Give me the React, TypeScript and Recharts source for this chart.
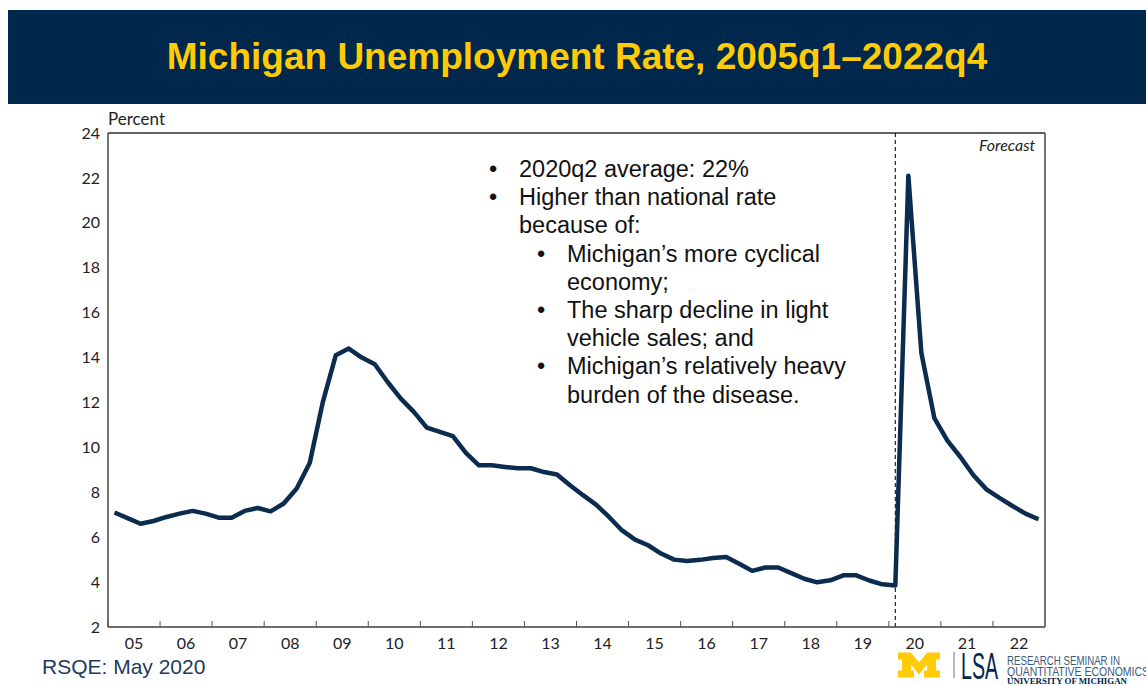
import React from 'react';
import { LineChart, Line, XAxis, YAxis, CartesianGrid, ReferenceLine } from 'recharts';

// Michigan unemployment rate, quarterly 2005q1 - 2022q4 (forecast from 2020q2)
const years = ['05', '06', '07', '08', '09', '10', '11', '12', '13', '14', '15', '16', '17', '18', '19', '20', '21', '22'];
const rates = [
    7.1, 6.85, 6.6, 6.72,
    6.9, 7.05, 7.17, 7.05,
    6.87, 6.87, 7.17, 7.3,
    7.15, 7.5, 8.17, 9.3,
    12.0, 14.1, 14.4, 14.0,
    13.7, 12.9, 12.17, 11.58,
    10.88, 10.69, 10.5, 9.75,
    9.2, 9.2, 9.13, 9.07,
    9.07, 8.9, 8.79, 8.31,
    7.87, 7.45, 6.9, 6.3,
    5.89, 5.64, 5.27, 5.0,
    4.94, 4.99, 5.07, 5.12,
    4.82, 4.5, 4.65, 4.65,
    4.4, 4.15, 3.99, 4.08,
    4.3, 4.3, 4.07, 3.9,
    3.85, 22.1, 14.2, 11.3,
    10.3, 9.57, 8.76, 8.13,
    7.75, 7.39, 7.05, 6.8,
];
const yTicks = [2, 4, 6, 8, 10, 12, 14, 16, 18, 20, 22, 24];
const yearStarts = years.map((_, i) => i * 4);
const forecastStart = 60.5; // 2020q1 centre

const notes = [
    { level: 0, text: '2020q2 average: 22%', bullet: true },
    { level: 0, text: 'Higher than national rate', bullet: true },
    { level: 0, text: 'because of:', bullet: false },
    { level: 1, text: 'Michigan’s more cyclical', bullet: true },
    { level: 1, text: 'economy;', bullet: false },
    { level: 1, text: 'The sharp decline in light', bullet: true },
    { level: 1, text: 'vehicle sales; and', bullet: false },
    { level: 1, text: 'Michigan’s relatively heavy', bullet: true },
    { level: 1, text: 'burden of the disease.', bullet: false },
];

const data = rates.map((v, i) => ({ t: i + 0.5, rate: v }));

const W = 1146;
const H = 686;
const PLOT_LEFT = 108;
const PLOT_RIGHT = 1045;
const HALF_YEAR = (PLOT_RIGHT - PLOT_LEFT) / 18 / 2;

const NAVY = '#00274C';
const MAIZE = '#FFCB05';
const LINE = '#0b2b4f';
const AXIS_FONT = 'Lato, "Open Sans", sans-serif';

const YearTick = ({ x, y, index }: any) => (
    <g>
        <line x1={x} y1={y} x2={x} y2={y - 6} stroke="#555" strokeWidth={1} />
        <text x={x + HALF_YEAR} y={y + 22} textAnchor="middle" fontSize={16} fill="#222" fontFamily={AXIS_FONT}>
            {years[index] ?? ''}
        </text>
    </g>
);

const Logo = () => (
    <svg width={260} height={40} style={{ position: 'absolute', left: 896, top: 646 }}>
        <g transform="translate(2,6.5)">
            <path
                d="M0 0 H13 L21 10 L29 0 H42 V7 H38 V18 H42 V25 H26 V18 H29 V12 L21 22 L13 12 V18 H16 V25 H0 V18 H4 V7 H0 Z"
                fill={MAIZE}
            />
        </g>
        <line x1={58} y1={6} x2={58} y2={32} stroke="#7d8ea3" strokeWidth={1.2} />
        <text x={65} y={33} fontSize={37} fill={NAVY} textLength={37} lengthAdjust="spacingAndGlyphs" fontFamily='"Liberation Sans", sans-serif'>
            LSA
        </text>
        <text x={111} y={18.5} fontSize={13} fill="#3b5a7d" textLength={113} lengthAdjust="spacingAndGlyphs" fontFamily='"Liberation Sans", sans-serif'>
            RESEARCH SEMINAR IN
        </text>
        <text x={111} y={29.5} fontSize={13} fill="#3b5a7d" textLength={142} lengthAdjust="spacingAndGlyphs" fontFamily='"Liberation Sans", sans-serif'>
            QUANTITATIVE ECONOMICS
        </text>
        <text x={111} y={38} fontSize={9} fontWeight={700} fill={NAVY} textLength={120} lengthAdjust="spacingAndGlyphs" fontFamily='"Liberation Serif", serif'>
            UNIVERSITY OF MICHIGAN
        </text>
    </svg>
);

export default function App() {
    return (
        <div style={{ position: 'relative', width: W, height: H, background: '#fff', overflow: 'hidden', fontFamily: '"Liberation Sans", Arial, sans-serif' }}>
            <style>{`body{margin:0}`}</style>

            {/* title banner */}
            <div style={{ position: 'absolute', left: 8, top: 10, width: W - 8, height: 94, background: NAVY, display: 'flex', alignItems: 'center', justifyContent: 'center' }}>
                <span style={{ color: MAIZE, fontWeight: 700, fontSize: 37, marginTop: 0, marginLeft: 0 }}>
                    Michigan Unemployment Rate, 2005q1–2022q4
                </span>
            </div>

            <div style={{ position: 'absolute', left: PLOT_LEFT, top: 108, fontSize: 17, color: '#222', fontFamily: AXIS_FONT }}>Percent</div>

            <div style={{ position: 'absolute', left: 0, top: 0 }}>
                <LineChart width={W} height={H} data={data} margin={{ top: 133, left: 68, right: 56, bottom: 29 }}>
                    <CartesianGrid vertical={false} stroke="#cfcfcf" strokeWidth={1.2} />
                    <XAxis
                        type="number"
                        dataKey="t"
                        domain={[0, 72]}
                        ticks={yearStarts}
                        interval={0}
                        tickSize={0}
                        tickMargin={0}
                        tickLine={false}
                        height={30}
                        axisLine={{ stroke: '#444', strokeWidth: 1.5 }}
                        tick={<YearTick />}
                    />
                    <YAxis
                        yAxisId="left"
                        domain={[2, 24]}
                        ticks={yTicks}
                        interval={0}
                        width={40}
                        tickLine={false}
                        tickSize={0}
                        tickMargin={8}
                        axisLine={{ stroke: '#444', strokeWidth: 1.5 }}
                        tick={{ fontSize: 16, fill: '#222', fontFamily: AXIS_FONT }}
                    />
                    <YAxis
                        yAxisId="right"
                        orientation="right"
                        domain={[2, 24]}
                        ticks={yTicks}
                        interval={0}
                        width={45}
                        tickLine={false}
                        tickSize={0}
                        tickMargin={6}
                        axisLine={{ stroke: '#444', strokeWidth: 1.5 }}
                        tick={{ fontSize: 16, fill: '#222', fontFamily: AXIS_FONT }}
                    />
                    <ReferenceLine yAxisId="left" y={24} stroke="#333" strokeWidth={1.5} />
                    <ReferenceLine yAxisId="left" x={forecastStart} stroke="#222" strokeWidth={1.2} strokeDasharray="4 3" />
                    <Line
                        yAxisId="left"
                        type="linear"
                        dataKey="rate"
                        stroke={LINE}
                        strokeWidth={4.5}
                        dot={false}
                        strokeLinejoin="round"
                        isAnimationActive={false}
                    />
                </LineChart>
            </div>

            <div style={{ position: 'absolute', left: 979, top: 135, fontSize: 16, fontStyle: 'italic', color: '#222', fontFamily: AXIS_FONT }}>Forecast</div>

            {/* annotation */}
            <div style={{ position: 'absolute', left: 485, top: 155, fontSize: 23.5, color: '#111', lineHeight: '28.2px' }}>
                {notes.map((n, i) => (
                    <div key={i} style={{ position: 'relative', paddingLeft: 34 + n.level * 48, whiteSpace: 'nowrap' }}>
                        {n.bullet && <span style={{ position: 'absolute', left: 4 + n.level * 48 }}>•</span>}
                        {n.text}
                    </div>
                ))}
            </div>

            <div style={{ position: 'absolute', left: 42, top: 655, fontSize: 21, color: '#1c3a5c' }}>RSQE: May 2020</div>

            <Logo />
        </div>
    );
}
